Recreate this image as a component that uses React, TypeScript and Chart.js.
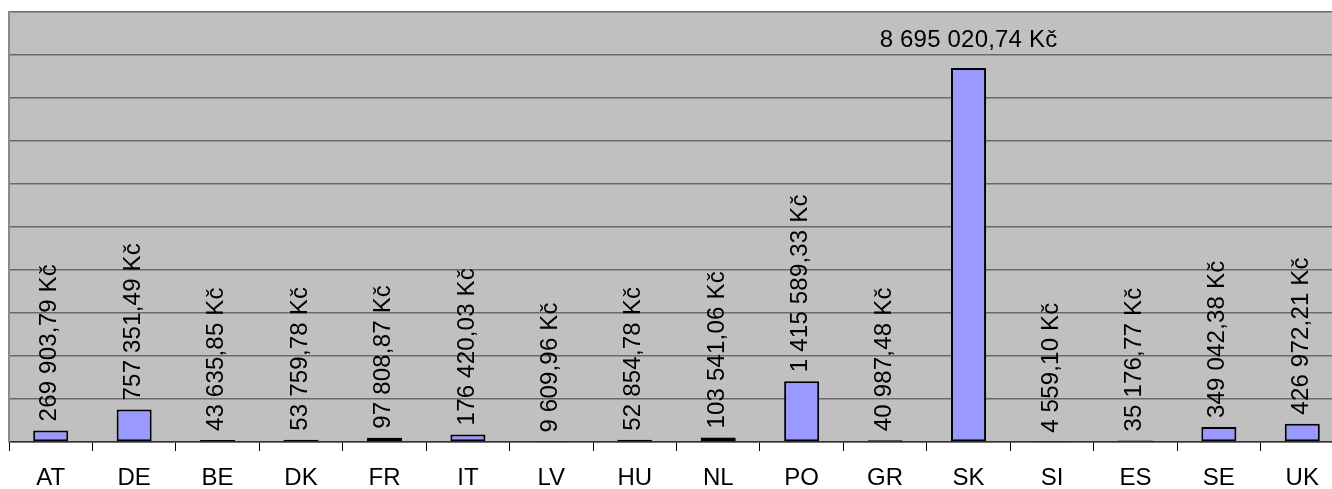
import React, { useEffect, useRef } from "react";
import { Chart, registerables } from "chart.js";

Chart.register(...registerables);

const categories = ["AT", "DE", "BE", "DK", "FR", "IT", "LV", "HU", "NL", "PO", "GR", "SK", "SI", "ES", "SE", "UK"];
const values = [
  269903.79, 757351.49, 43635.85, 53759.78, 97808.87, 176420.03, 9609.96, 52854.78,
  103541.06, 1415589.33, 40987.48, 8695020.74, 4559.1, 35176.77, 349042.38, 426972.21,
];
const yMax = 10000000;
const yStep = 1000000;

function formatCzk(v: number): string {
  const fixed = v.toFixed(2);
  const [intPart, dec] = fixed.split(".");
  const grouped = intPart.replace(/\B(?=(\d{3})+(?!\d))/g, " ");
  return grouped + "," + dec + " Kč";
}

const FONT = "'Liberation Sans', Arial, sans-serif";

const bgPlugin = {
  id: "plotBg",
  beforeDraw(chart: any) {
    const { ctx, chartArea } = chart;
    ctx.save();
    ctx.fillStyle = "#c0c0c0";
    ctx.fillRect(chartArea.left, chartArea.top, chartArea.right - chartArea.left, chartArea.bottom - chartArea.top);
    ctx.restore();
  },
};

const labelPlugin = {
  id: "barLabels",
  afterDatasetsDraw(chart: any) {
    const { ctx, chartArea } = chart;
    const meta = chart.getDatasetMeta(0);
    const data = chart.data.datasets[0].data as number[];
    ctx.save();
    ctx.font = "24px " + FONT;
    ctx.fillStyle = "#000000";
    try {
      (ctx as any).letterSpacing = "0.2px";
    } catch (e) {}
    meta.data.forEach((bar: any, i: number) => {
      const text = formatCzk(data[i]);
      const w = ctx.measureText(text).width;
      const x = bar.x;
      const y = bar.y;
      if (y - 9 - w < chartArea.top + 4) {
        ctx.textAlign = "center";
        ctx.textBaseline = "alphabetic";
        ctx.fillText(text, x, y - 21);
      } else {
        ctx.save();
        ctx.translate(x - 1, y - 9);
        ctx.rotate(-Math.PI / 2);
        ctx.textAlign = "left";
        ctx.textBaseline = "middle";
        ctx.fillText(text, 0, 0);
        ctx.restore();
      }
    });
    ctx.restore();
  },
};

export default function App() {
  const ref = useRef<HTMLCanvasElement | null>(null);

  useEffect(() => {
    if (!ref.current) return;
    const chart = new Chart(ref.current, {
      type: "bar",
      data: {
        labels: categories,
        datasets: [
          {
            data: values,
            backgroundColor: "#9999ff",
            borderColor: "#000000",
            borderWidth: 2,
            borderSkipped: false,
            barPercentage: 0.42,
            categoryPercentage: 1,
          },
        ],
      },
      options: {
        animation: false,
        responsive: false,
        devicePixelRatio: 1,
        layout: { padding: { left: 9, top: 12, right: 2, bottom: 0 } },
        plugins: {
          legend: { display: false },
          tooltip: { enabled: false },
          title: { display: false },
        },
        scales: {
          x: {
            type: "category",
            offset: true,
            grid: {
              display: true,
              drawOnChartArea: false,
              drawTicks: true,
              tickLength: 9,
              color: "#000000",
              lineWidth: 1,
              offset: true,
            },
            border: { display: true, color: "#333333", width: 1.5 },
            ticks: {
              color: "#000000",
              font: { family: FONT, size: 24 },
              padding: 13,
              maxRotation: 0,
              autoSkip: false,
            },
            afterFit: (scale: any) => {
              scale.height = 47;
            },
          },
          y: {
            min: 0,
            max: yMax,
            ticks: { display: false, stepSize: yStep },
            grid: { color: "#6a6a6a", lineWidth: 1.4, drawTicks: false },
            border: { display: true, color: "#8a8a8a", width: 2 },
            afterFit: (scale: any) => {
              scale.width = 0;
            },
          },
        },
      },
      plugins: [bgPlugin, labelPlugin],
    });
    return () => chart.destroy();
  }, []);

  return (
    <div
      style={{
        position: "fixed",
        left: 0,
        top: 0,
        width: 1332,
        height: 489,
        overflow: "hidden",
        background: "#ffffff",
      }}
    >
      <canvas ref={ref} width={1346} height={489} style={{ display: "block", width: 1346, height: 489 }} />
    </div>
  );
}
